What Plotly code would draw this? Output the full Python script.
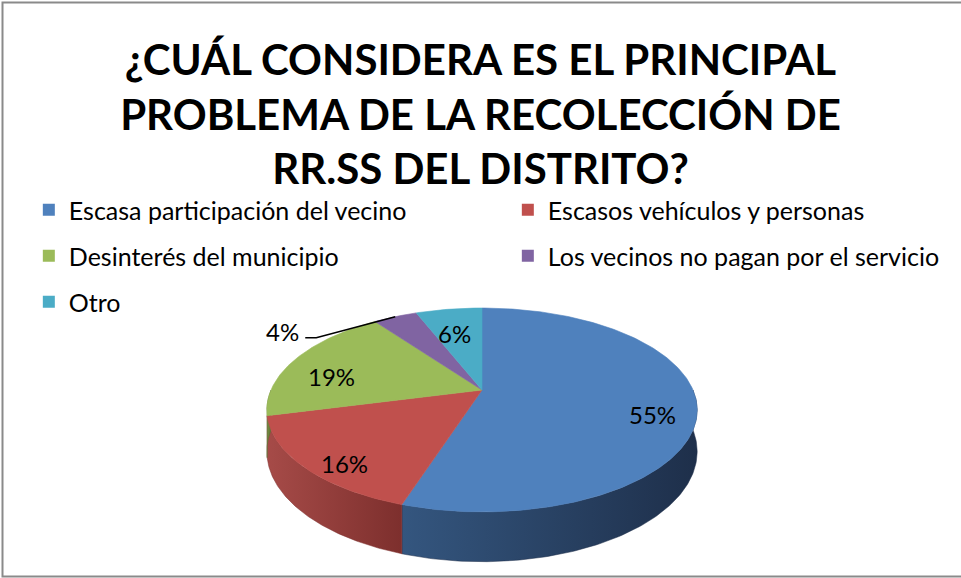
import numpy as np
import plotly.graph_objects as go

# ---------------- data ----------------
categories = [
    "Escasa participación del vecino",
    "Escasos vehículos y personas",
    "Desinterés del municipio",
    "Los vecinos no pagan por el servicio",
    "Otro",
]
values = [55, 16, 19, 4, 6]
legend_rows = [[0, 1], [2, 3], [4]]
title_text = "¿CUÁL CONSIDERA ES EL PRINCIPAL<br>PROBLEMA DE LA RECOLECCIÓN DE<br>RR.SS DEL DISTRITO?"

# ---------------- style ----------------
top_colors = ["#4F81BD", "#C0504D", "#9BBB59", "#8064A2", "#4BACC6"]
side_colors = [("#34567F", "#1E2F4A"), ("#A64B48", "#7D2F2D"), ("#7A9446", "#5C7033"),
               ("#644E80", "#4A3A60"), ("#3A8AA0", "#2A6878")]
W, H = 961, 578
CX, CY0, R, B, K, DEPTH = 482.0, 390.0, 211.0, -21.6, 0.196, 40.0
FONT = "Lato, 'Open Sans', sans-serif"


def proj(theta_deg, r=1.0):
    t = np.radians(theta_deg)
    u, v = r * np.sin(t), r * np.cos(t)
    den = 1 + K * v
    return CX + R * u / den, (CY0 + B * v) / den, den


total = float(sum(values))
angles = np.concatenate([[0.0], np.cumsum(values) / total * 360.0])

fig = go.Figure()

# side walls (front half only)
for i in range(len(values)):
    a, b = max(angles[i], 90.0), min(angles[i + 1], 270.0)
    if b <= a:
        continue
    th = np.linspace(a, b, 120)
    xt, yt, den = proj(th)
    yb = yt + DEPTH / den
    xs = np.concatenate([xt, xt[::-1], [xt[0]]])
    ys = np.concatenate([yt, yb[::-1], [yt[0]]])
    fig.add_trace(go.Scatter(
        x=xs, y=ys, mode="lines", fill="toself",
        line=dict(width=0.5, color=side_colors[i][1]),
        fillgradient=dict(type="horizontal",
                          colorscale=[[0, side_colors[i][0]], [1, side_colors[i][1]]]),
        showlegend=False, hoverinfo="skip"))

# top faces
for i in range(len(values)):
    th = np.linspace(angles[i], angles[i + 1], max(4, int(values[i] * 4)))
    xt, yt, _ = proj(th)
    xs = np.concatenate([[CX], xt, [CX]])
    ys = np.concatenate([[CY0], yt, [CY0]])
    fig.add_trace(go.Scatter(
        x=xs, y=ys, mode="lines", fill="toself", fillcolor=top_colors[i],
        line=dict(width=0.6, color=top_colors[i]),
        showlegend=False, name=categories[i],
        text=f"{categories[i]}: {values[i]}%", hoverinfo="text"))

# data labels
for i in range(len(values)):
    mid = (angles[i] + angles[i + 1]) / 2
    txt = f"{round(values[i] / total * 100)}%"
    if values[i] / total < 0.05:
        ex, ey, _ = proj(mid, 1.0)
        fig.add_trace(go.Scatter(
            x=[ex, ex - 79, ex - 90], y=[ey, ey + 21, ey + 21], mode="lines",
            line=dict(color="black", width=1.5), showlegend=False, hoverinfo="skip"))
        fig.add_annotation(x=ex - 94, y=ey + 15, text=txt, showarrow=False,
                           xanchor="right", yanchor="middle",
                           font=dict(family=FONT, size=24, color="black"))
    else:
        lx, ly, den = proj(mid, 0.8)
        ly = ly + 0.3 * DEPTH / den
        fig.add_annotation(x=lx, y=ly, text=txt, showarrow=False,
                           font=dict(family=FONT, size=24, color="black"))

# legend entries
legend_names = ["legend", "legend2", "legend3"]
for row, idxs in enumerate(legend_rows):
    for i in idxs:
        fig.add_trace(go.Scatter(
            x=[None], y=[None], mode="markers", name=categories[i],
            marker=dict(symbol="square", size=12, color=top_colors[i]),
            legend=legend_names[row], showlegend=True))

row_y = [210, 256, 302]
leg_common = dict(orientation="h", xanchor="left", yanchor="middle", x=0.03,
                  entrywidth=434, entrywidthmode="pixels", bgcolor="rgba(0,0,0,0)",
                  font=dict(family=FONT, size=25, color="black"), traceorder="normal",
                  itemclick=False, itemdoubleclick=False)
layout_legends = {}
for row, nm in enumerate(legend_names):
    layout_legends[nm] = dict(leg_common, y=1 - row_y[row] / H)

# chart border
fig.add_shape(type="rect", xref="x", yref="y", x0=2.5, y0=2.5, x1=970, y1=576.5,
              line=dict(color="#8A8A8A", width=2), fillcolor="rgba(0,0,0,0)", layer="below")

fig.update_layout(
    width=W, height=H,
    margin=dict(l=0, r=0, t=0, b=0, autoexpand=False),
    paper_bgcolor="white", plot_bgcolor="white",
    title=dict(text=f"<b>{title_text}</b>", x=0.5, xanchor="center",
               y=1 - 75 / H, yanchor="top", yref="container",
               font=dict(family=FONT, size=42, color="black")),
    xaxis=dict(range=[0, W], visible=False, fixedrange=True),
    yaxis=dict(range=[H, 0], visible=False, fixedrange=True),
    **layout_legends,
)

fig.write_html("out.html", config={"displayModeBar": False},
               post_script="document.body.style.margin='0';document.body.style.overflow='hidden';")
